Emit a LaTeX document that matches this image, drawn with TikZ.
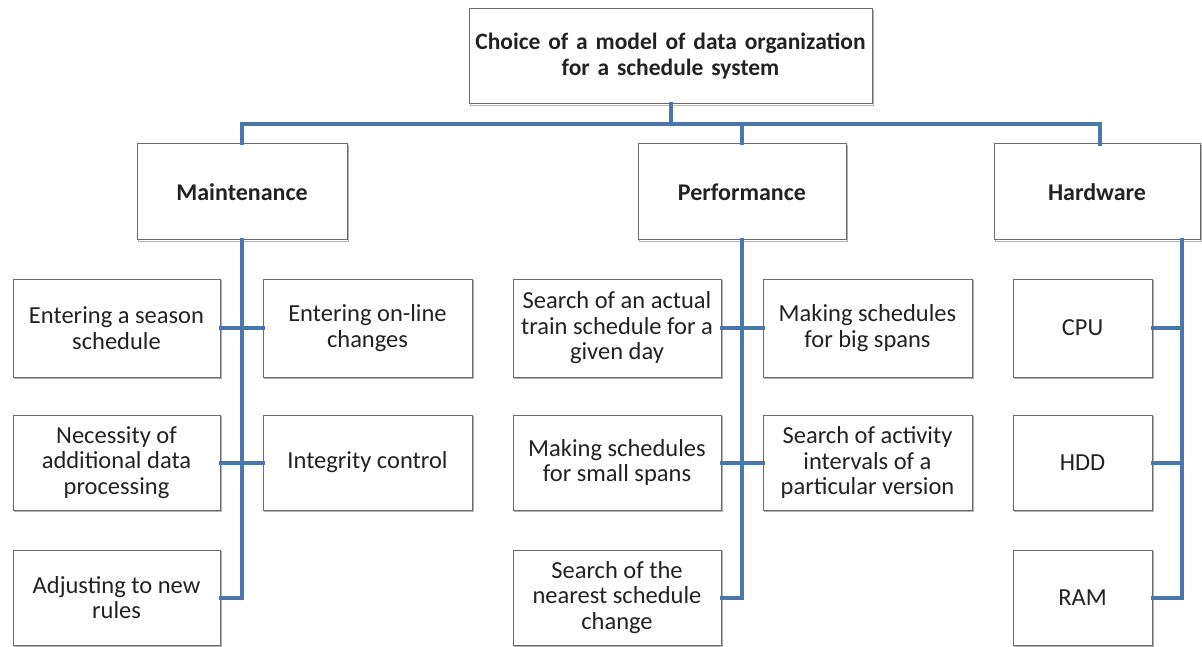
\documentclass[tikz,border=0pt]{standalone}
\usepackage{fontspec}
\setmainfont{Carlito}
\definecolor{linkblue}{HTML}{4A76AE}
\definecolor{boxline}{HTML}{6A6A6A}
\definecolor{txt}{HTML}{222222}
\begin{document}
\begin{tikzpicture}[x=1pt,y=-1pt,
  box/.style={draw=boxline, line width=1pt, fill=white, align=center, inner sep=0pt,
    text=txt, font=\fontsize{24.5}{25.5}\selectfont,
    preaction={draw=black!30, line width=1pt, transform canvas={xshift=1.5pt,yshift=-1.5pt}}},
  head/.style={box, font=\fontsize{24}{25.5}\selectfont\bfseries},
  link/.style={draw=linkblue, line width=4pt, line cap=rect}]
\useasboundingbox (0,0) rectangle (1202,647);
% root and headers
\node[box, font=\fontsize{23.5}{26}\selectfont\bfseries, minimum width=403, minimum height=95, text width=400] (root) at (670.5,56.5)
  {Choice of a model of data organization\\for a schedule system};
\node[head, minimum width=210, minimum height=96] (maint) at (242,192) {Maintenance};
\node[head, minimum width=208, minimum height=96] (perf) at (742,192) {Performance};
\node[head, minimum width=206, minimum height=96] (hard) at (1097,192) {Hardware};
% maintenance children
\node[box, minimum width=207, minimum height=98] (m1) at (116.5,328) {Entering a season\\schedule};
\node[box, minimum width=209, minimum height=98] (m2) at (367.5,328) {Entering on-line\\changes};
\node[box, minimum width=207, minimum height=95] (m3) at (116.5,462.5) {Necessity of\\additional data\\processing};
\node[box, minimum width=209, minimum height=95] (m4) at (367.5,462.5) {Integrity control};
\node[box, minimum width=207, minimum height=95] (m5) at (116.5,597.5) {Adjusting to new\\rules};
% performance children
\node[box, minimum width=208, minimum height=98] (p1) at (617,328) {Search of an actual\\train schedule for a\\given day};
\node[box, minimum width=209, minimum height=98] (p2) at (867.5,328) {Making schedules\\for big spans};
\node[box, minimum width=208, minimum height=95] (p3) at (617,462.5) {Making schedules\\for small spans};
\node[box, minimum width=209, minimum height=95] (p4) at (867.5,462.5) {Search of activity\\intervals of a\\particular version};
\node[box, minimum width=208, minimum height=95] (p5) at (617,597.5) {Search of the\\nearest schedule\\change};
% hardware children
\node[box, minimum width=139, minimum height=98] (h1) at (1082.5,328) {CPU};
\node[box, minimum width=139, minimum height=95] (h2) at (1082.5,462.5) {HDD};
\node[box, minimum width=139, minimum height=95] (h3) at (1082.5,597.5) {RAM};
% connectors
\coordinate (busL) at (242,124.5);
\coordinate (busR) at (1100,124.5);
\coordinate (hardtop) at (1100,144);
\coordinate (hardbot) at (1182,240);
\draw[link] (root.south) -- (root.south |- busL);
\draw[link] (maint.north) -- (busL) -- (busR) -- (hardtop);
\draw[link] (perf.north) -- (perf.north |- busL);
% maintenance tree
\draw[link] (maint.south) -- (maint.south |- m5.east) -- (m5.east);
\draw[link] (m1.east) -- (m2.west);
\draw[link] (m3.east) -- (m4.west);
% performance tree
\draw[link] (perf.south) -- (perf.south |- p5.east) -- (p5.east);
\draw[link] (p1.east) -- (p2.west);
\draw[link] (p3.east) -- (p4.west);
% hardware tree
\draw[link] (hardbot) -- (hardbot |- h3.east) -- (h3.east);
\draw[link] (h1.east) -- (h1.east -| hardbot);
\draw[link] (h2.east) -- (h2.east -| hardbot);
\end{tikzpicture}
\end{document}
